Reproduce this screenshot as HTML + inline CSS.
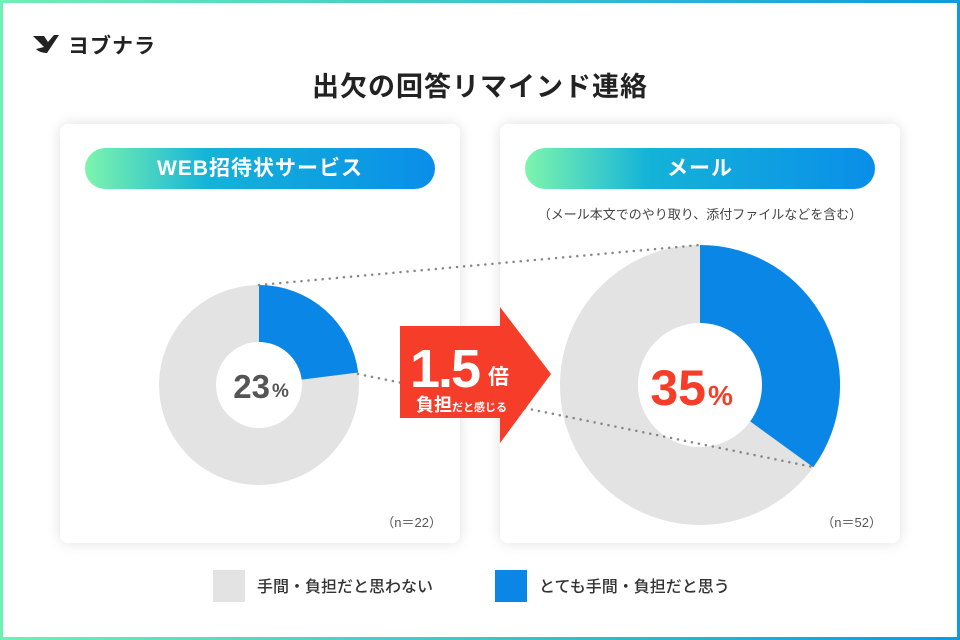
<!DOCTYPE html><html><head><meta charset="utf-8"><style>
body{margin:0;width:960px;height:640px;overflow:hidden;font-family:"Liberation Sans","Noto Sans CJK JP",sans-serif;}
.frame{position:absolute;left:0;top:0;width:960px;height:640px;background:linear-gradient(90deg,#6ff0b4,#0b9be0);}
.inner{position:absolute;left:3px;top:3px;right:3px;bottom:3px;background:#fff;}
.card{position:absolute;top:124px;width:400px;height:419px;background:#fff;border-radius:8px;box-shadow:0 0 14px rgba(0,0,0,0.12);}
.pill{position:absolute;top:24px;left:25px;width:350px;height:41px;border-radius:21px;background:linear-gradient(90deg,#7ef5ad,#14b3d8 35%,#0a8ee9);color:#fff;font-weight:bold;font-size:21px;text-align:center;line-height:41px;letter-spacing:1px;}
.n{position:absolute;bottom:12px;right:18px;font-size:13px;color:#555;}
.t{position:absolute;white-space:nowrap;}
</style></head><body>
<div class="frame"></div><div class="inner"></div>
<svg class="t" style="left:32px;top:33px" width="28" height="22" viewBox="0 0 28 22"><path d="M1 3 L12 3 L16 9 L22 2 L27 2 L15 20 Q8 20 4 16 L12 14 Z" fill="#222"/></svg>
<div class="t" style="left:68px;top:30px;font-size:21px;font-weight:bold;color:#222;letter-spacing:1px">ヨブナラ</div>
<div class="t" style="left:0;width:960px;top:65px;text-align:center;font-size:27px;font-weight:bold;color:#222;letter-spacing:1px">出欠の回答リマインド連絡</div>
<div class="card" style="left:60px"><div class="pill">WEB招待状サービス</div><div class="n">（n＝22）</div></div>
<div class="card" style="left:500px"><div class="pill">メール</div>
<div class="t" style="left:0;width:400px;top:80px;text-align:center;font-size:13px;color:#444">（メール本文でのやり取り、添付ファイルなどを含む）</div>
<div class="n">（n＝52）</div></div>
<svg class="t" style="left:0;top:0" width="960" height="640">
<circle cx="259" cy="385" r="71.5" fill="none" stroke="#e3e3e3" stroke-width="57"/>
<path d="M259 285 A100 100 0 0 1 358.2 372.5 L301.7 379.6 A43 43 0 0 0 259 342 Z" fill="#0a86e6"/>
<circle cx="700" cy="385" r="101" fill="none" stroke="#e3e3e3" stroke-width="78"/>
<path d="M700 245 A140 140 0 0 1 813.3 467.3 L750.2 421.4 A62 62 0 0 0 700 323 Z" fill="#0a86e6"/>
<g stroke="#888" stroke-width="2.5" stroke-dasharray="0.1 7" stroke-linecap="round">
<line x1="259" y1="285" x2="700" y2="245"/><line x1="358" y1="374" x2="813" y2="467"/></g>
<polygon points="400,326 500,326 500,307 551,374 500,443 500,418 400,418" fill="#f53d2a"/>
<text x="270" y="398" font-size="33" font-weight="bold" fill="#555" text-anchor="end" font-family="Liberation Sans">23</text>
<text x="272" y="397" font-size="19" font-weight="bold" fill="#555" font-family="Liberation Sans">%</text>
<text x="706" y="405" font-size="50" font-weight="bold" fill="#f53d2a" text-anchor="end" font-family="Liberation Sans">35</text>
<text x="708" y="405" font-size="28" font-weight="bold" fill="#f53d2a" font-family="Liberation Sans">%</text>
<text x="410" y="387" font-size="54" font-weight="bold" fill="#fff" font-family="Liberation Sans" letter-spacing="-2">1.5</text>
<text x="488" y="384" font-size="21" font-weight="bold" fill="#fff" font-family="Noto Sans CJK JP">倍</text>
<text x="416" y="411" font-size="18" font-weight="bold" fill="#fff" font-family="Noto Sans CJK JP">負担<tspan font-size="11">だと感じる</tspan></text>
<rect x="213" y="570" width="32" height="32" fill="#e3e3e3"/>
<rect x="495" y="570" width="32" height="32" fill="#0a86e6"/>
<text x="257" y="592" font-size="16" font-weight="500" fill="#333" font-family="Noto Sans CJK JP">手間・負担だと思わない</text>
<text x="539" y="592" font-size="16" font-weight="500" fill="#333" font-family="Noto Sans CJK JP">とても手間・負担だと思う</text>
</svg>
</body></html>
